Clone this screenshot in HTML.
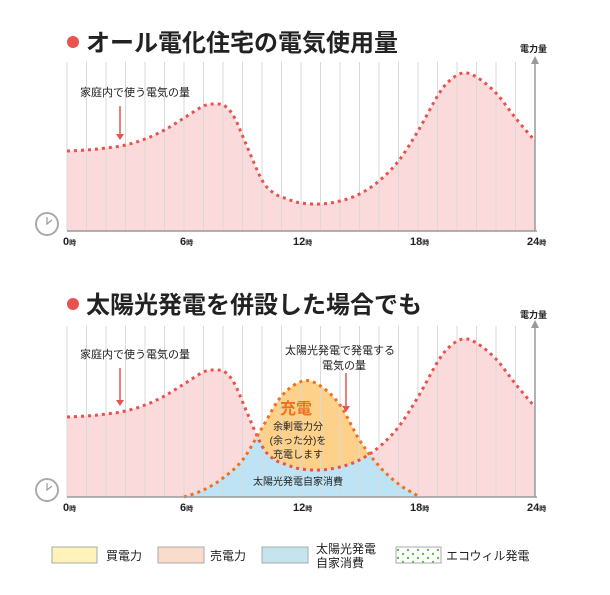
<!DOCTYPE html>
<html><head><meta charset="utf-8">
<style>
body{margin:0;background:#fff;width:610px;height:590px;overflow:hidden;font-family:"Liberation Sans","Noto Sans CJK JP",sans-serif;}
svg text{font-family:"Liberation Sans","Noto Sans CJK JP",sans-serif;}
</style></head><body>
<svg id="s" width="610" height="590" xmlns="http://www.w3.org/2000/svg">
<defs>
<pattern id="gd" width="10" height="8" patternUnits="userSpaceOnUse"><circle cx="3" cy="2" r="1.2" fill="#5cbd4a"/><circle cx="8" cy="6" r="1.2" fill="#5cbd4a"/></pattern>
</defs>
<g id="g1"></g>
<circle cx="73" cy="42" r="6" fill="#e8534f"/>
<text x="86" y="51" font-size="24" font-weight="bold" fill="#222">オール電化住宅の電気使用量</text>
<circle cx="73" cy="304" r="6" fill="#e8534f"/>
<text x="86" y="313" font-size="24" font-weight="bold" fill="#222">太陽光発電を併設した場合でも</text>
<g font-size="9" font-weight="bold" fill="#222">
<text x="520" y="52">電力量</text><text x="520" y="318">電力量</text>
</g>
<g font-size="11" fill="#222">
<text x="80" y="96">家庭内で使う電気の量</text>
<text x="80" y="358">家庭内で使う電気の量</text>
<text x="285" y="354">太陽光発電で発電する</text>
<text x="322" y="369">電気の量</text>
<text x="253" y="485" font-size="10">太陽光発電自家消費</text>
<text x="296" y="414" font-size="16" font-weight="bold" fill="#f07020" text-anchor="middle">充電</text>
<text x="298" y="430" font-size="10" text-anchor="middle">余剰電力分</text>
<text x="298" y="444" font-size="10" text-anchor="middle">(余った分)を</text>
<text x="298" y="458" font-size="10" text-anchor="middle">充電します</text>
</g>
<g stroke="#e8534f" stroke-width="1.5"><line x1="120" y1="106" x2="120" y2="136"/><line x1="120" y1="368" x2="120" y2="402"/><line x1="346" y1="373" x2="346" y2="408"/></g>
<g fill="#e8534f"><polygon points="116,134 124,134 120,140"/><polygon points="116,400 124,400 120,406"/><polygon points="342,406 350,406 346,412"/></g>
<rect x="52" y="547" width="45" height="16" fill="#fff3bb" stroke="#aaa"/>
<rect x="158" y="547" width="46" height="16" fill="#fadccd" stroke="#aaa"/>
<rect x="262" y="547" width="46" height="16" fill="#c4e4ee" stroke="#aaa"/>
<rect x="396" y="547" width="45" height="16" fill="url(#gd)" stroke="#aaa"/>
<g font-size="12" fill="#222">
<text x="106" y="560">買電力</text><text x="210" y="560">売電力</text>
<text x="316" y="553">太陽光発電</text><text x="316" y="567">自家消費</text>
<text x="446" y="560">エコウィル発電</text>
</g>
</svg>
<script>
var NS="http://www.w3.org/2000/svg",g=document.getElementById("g1");
function el(t,a){var e=document.createElementNS(NS,t);for(var k in a)e.setAttribute(k,a[k]);g.appendChild(e);return e;}
function X(h){return 67+h*19.5;}
var D=[[0,151],[1,150],[2,148],[3,145],[4,139],[5,130],[6,118],[7,106],[7.6,104],[8.1,106],[8.6,118],[9.2,145],[10,180],[10.6,193],[11.3,199],[12,203],[13,204],[14,201],[15,194],[16,181],[17,161],[18,131],[19,96],[19.6,81],[20.3,73],[21,77],[22,93],[23,118],[24,141]];
var G=[[6,497],[7,490],[8,478],[9,460],[10,428],[11,396],[12.1,381],[13,386],[14,405],[15,440],[16,466],[17,484],[18,496]];
function path(pts,dy){var p=pts.map(function(q){return [X(q[0]),q[1]+dy];});var d="M"+p[0][0]+","+p[0][1];
for(var i=0;i<p.length-1;i++){var p0=p[i-1]||p[i],p1=p[i],p2=p[i+1],p3=p[i+2]||p2;
d+=" C"+(p1[0]+(p2[0]-p0[0])/6)+","+(p1[1]+(p2[1]-p0[1])/6)+" "+(p2[0]-(p3[0]-p1[0])/6)+","+(p2[1]-(p3[1]-p1[1])/6)+" "+p2[0]+","+p2[1];}return d;}
function chart(top,base,dy,second){
 var dl=path(D,dy);
 el("path",{d:dl+" L"+X(24)+","+base+" L"+X(0)+","+base+"Z",fill:"#fadadb"});
 var gl;
 if(second){gl=path(G,0);
  var cp=document.createElementNS(NS,"clipPath");cp.id="cp";var pp=document.createElementNS(NS,"path");pp.setAttribute("d",dl+" L"+X(24)+","+base+" L"+X(0)+","+base+"Z");cp.appendChild(pp);g.appendChild(cp);
  el("path",{d:gl+"Z",fill:"#fdd189"});
  el("path",{d:gl+"Z",fill:"#bde3f5","clip-path":"url(#cp)"});
 }
 for(var h=0;h<24;h++)el("line",{x1:X(h),y1:top,x2:X(h),y2:base,stroke:"#d9d9d9","stroke-width":1});
 el("path",{d:dl,fill:"none",stroke:"#e8534f","stroke-width":3,"stroke-dasharray":"3 4"});
 if(second)el("path",{d:gl,fill:"none",stroke:"#f07020","stroke-width":3,"stroke-dasharray":"3 4"});
 el("line",{x1:X(0),y1:base,x2:X(24)+2,y2:base,stroke:"#999","stroke-width":1.5});
 el("line",{x1:X(24),y1:base,x2:X(24),y2:top,stroke:"#999","stroke-width":1.5});
 el("polygon",{points:(X(24)-4)+","+(top+2)+" "+(X(24)+4)+","+(top+2)+" "+X(24)+","+(top-6),fill:"#999"});
 el("circle",{cx:47,cy:base-7,r:11,fill:"#fff",stroke:"#aaa","stroke-width":2});
 el("path",{d:"M47,"+(base-14)+" L47,"+(base-7)+" L52,"+(base-11),stroke:"#999",fill:"none","stroke-width":1.2});
 [[0,"0"],[6,"6"],[12,"12"],[18,"18"],[24,"24"]].forEach(function(t){var e=el("text",{x:X(t[0])-(t[1].length>1?8:4),y:base+14,"font-size":"11","font-weight":"bold",fill:"#222"});e.textContent=t[1];var s=el("tspan",{"font-size":"7"});s.textContent="時";e.appendChild(s);});
}
chart(62,231,0,false);
chart(326,497,266,true);
</script>
</body></html>
